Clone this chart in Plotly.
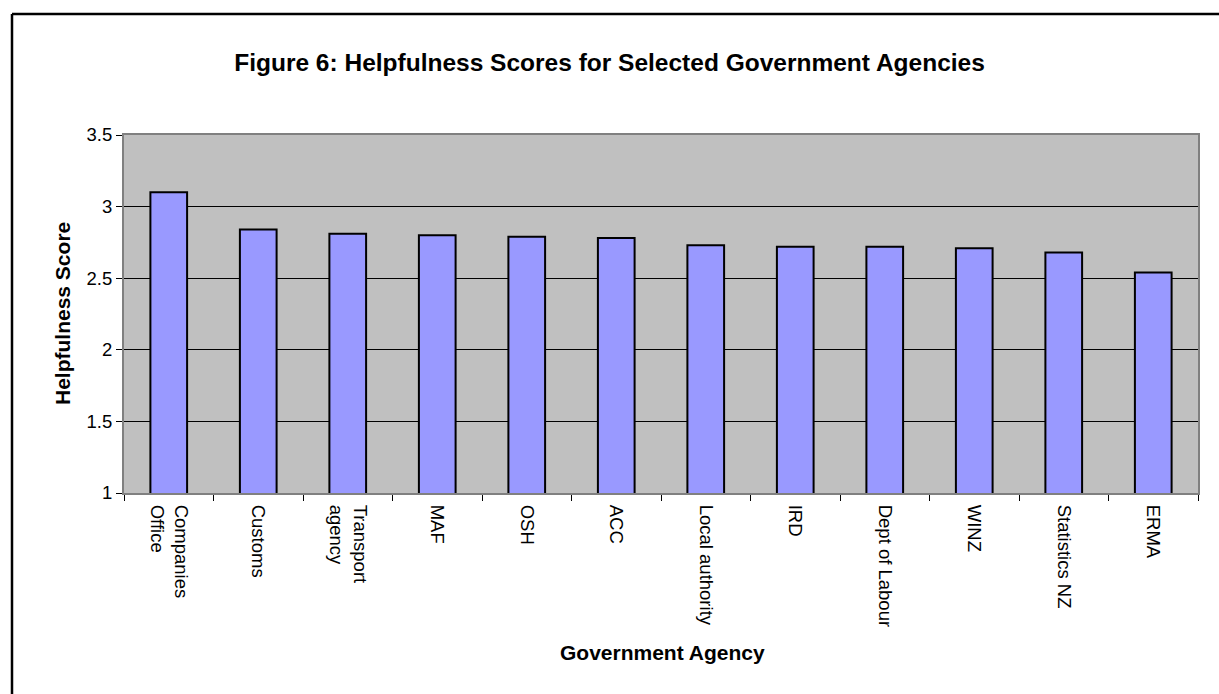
import plotly.graph_objects as go

agencies = ["Companies<br>Office", "Customs", "Transport<br>agency", "MAF", "OSH", "ACC",
            "Local authority", "IRD", "Dept of Labour", "WINZ", "Statistics NZ", "ERMA"]
scores = [3.10, 2.84, 2.81, 2.80, 2.79, 2.78, 2.73, 2.72, 2.72, 2.71, 2.68, 2.54]

W, H = 1219, 694
L, R, T, B = 124, 21, 135, 201
pw, ph = W - L - R, H - T - B

def px_to_paper_x(x):
    return (x - L) / pw

def px_to_paper_y(y):
    return (H - B - y) / ph

font_family = "Liberation Sans, Arial, sans-serif"

fig = go.Figure(go.Bar(
    x=agencies, y=scores, base=0,
    marker=dict(color="#9999FF", line=dict(color="black", width=2)),
    hoverinfo="x+y",
))

fig.update_layout(
    width=W, height=H,
    margin=dict(l=L, r=R, t=T, b=B),
    paper_bgcolor="white",
    plot_bgcolor="#C0C0C0",
    bargap=0.59,
    showlegend=False,
    font=dict(family=font_family, color="black", size=18),
    title=dict(text="<b>Figure 6: Helpfulness Scores for Selected Government Agencies</b>",
               x=0.5, xref="container", xanchor="center",
               y=1 - 62 / H, yref="container", yanchor="middle",
               font=dict(size=24.5, family=font_family, color="black")),
)

fig.update_xaxes(
    type="category", tickangle=90, ticks="outside", tickson="boundaries",
    ticklen=6, tickcolor="black", showgrid=False,
    showline=True, linecolor="#808080", linewidth=2, mirror=True,
    ticklabelstandoff=6,
    tickfont=dict(size=18.5, family=font_family),
)
fig.update_yaxes(
    range=[1, 3.5], tickvals=[1, 1.5, 2, 2.5, 3, 3.5], ticktext=["1", "1.5", "2", "2.5", "3", "3.5"],
    ticks="outside", ticklen=6, tickcolor="black",
    showgrid=True, gridcolor="black", gridwidth=1,
    showline=True, linecolor="#808080", linewidth=2, mirror=True,
    zeroline=False, tickfont=dict(size=18.5, family=font_family),
)

fig.add_annotation(text="<b>Helpfulness Score</b>", textangle=-90,
                   x=px_to_paper_x(62), y=0.5, xref="paper", yref="paper",
                   showarrow=False, font=dict(size=21, family=font_family, color="black"),
                   xanchor="center", yanchor="middle")
fig.add_annotation(text="<b>Government Agency</b>",
                   x=px_to_paper_x(662), y=px_to_paper_y(652), xref="paper", yref="paper",
                   showarrow=False, font=dict(size=21, family=font_family, color="black"),
                   xanchor="center", yanchor="middle")

# outer chart border (only left and top edges fall inside the image)
fig.add_shape(type="line", xref="paper", yref="paper",
              x0=px_to_paper_x(12), x1=px_to_paper_x(1300),
              y0=px_to_paper_y(14), y1=px_to_paper_y(14),
              line=dict(color="black", width=2.5))
fig.add_shape(type="line", xref="paper", yref="paper",
              x0=px_to_paper_x(12), x1=px_to_paper_x(12),
              y0=px_to_paper_y(14), y1=px_to_paper_y(800),
              line=dict(color="black", width=2.5))

fig.write_html("out.html")
